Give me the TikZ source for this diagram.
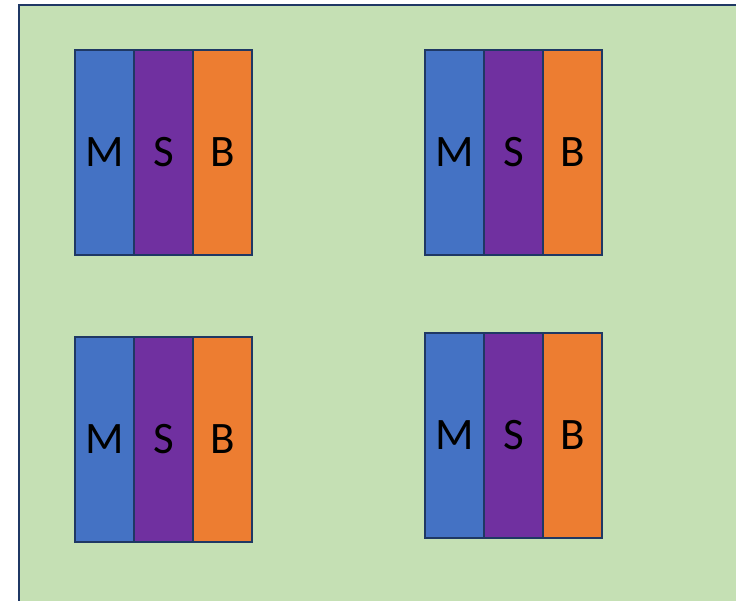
\documentclass[tikz,border=0pt]{standalone}
\usepackage{fontspec}
\setmainfont{Carlito}
\usetikzlibrary{positioning}
\definecolor{panelgreen}{HTML}{C5E0B4}
\definecolor{edgenavy}{HTML}{1F3864}
\definecolor{mblue}{HTML}{4472C4}
\definecolor{spurple}{HTML}{7030A0}
\definecolor{borange}{HTML}{ED7D31}
\begin{document}
\begin{tikzpicture}[
    x=1pt, y=-1pt,
    font=\fontsize{45}{45}\selectfont,
    node distance=0mm,
    strip/.style={draw=edgenavy, line width=2.4pt, outer sep=0pt, inner sep=0pt, minimum width=59pt, minimum height=205pt, align=center}
]
\useasboundingbox (0,0) rectangle (736,600);
\draw[draw=edgenavy, line width=2.4pt, fill=panelgreen] (19,5) rectangle (760,620);

\foreach \g/\x/\y in {1/75/50, 2/425/50, 3/75/337, 4/425/333} {
  \node[strip, fill=mblue, anchor=north west] (m\g) at (\x,\y) {M};
  \node[strip, fill=spurple, right=of m\g] (s\g) {S};
  \node[strip, fill=borange, right=of s\g] (b\g) {B};
}
\end{tikzpicture}
\end{document}
